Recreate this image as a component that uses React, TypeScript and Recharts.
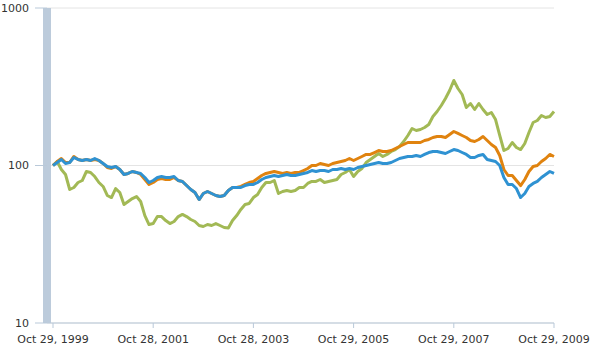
import React from "react";
import { LineChart, Line, XAxis, YAxis, CartesianGrid } from "recharts";

const tickIndex = [0, 24, 48, 72, 96, 120];
const tickLabels = ["Oct 29, 1999", "Oct 28, 2001", "Oct 28, 2003", "Oct 29, 2005", "Oct 29, 2007", "Oct 29, 2009"];
const yTicks = [10, 100, 1000];

const greenSeries = [100,106,94.3,87.7,70.4,72.5,78.0,80.3,91.6,90.3,
85.1,78.0,73.6,64.5,62.6,71.4,67.4,56.5,59.1,61.7,
63.5,59.1,48.1,42.2,42.8,47.4,47.4,44.7,42.8,44.1,
47.4,48.9,47.4,45.4,44.1,41.6,41.0,42.2,41.6,42.8,
41.6,40.4,40.1,44.7,48.1,52.6,56.5,57.4,62.6,65.4,
72.5,78.0,78.0,80.3,66.4,68.4,69.4,68.4,69.4,72.5,
72.5,76.9,79.2,79.2,81.5,78.0,79.2,80.3,81.5,87.7,
90.3,94.3,85.1,91.6,95.7,104.5,109.2,114.1,119.2,114.1,
117.5,122.7,126.3,132.0,142.0,155.1,171.8,166.8,169.3,174.3,
182.1,204.7,220.2,240.4,266.3,299.4,346.5,308.3,282.4,233.5,
247.5,226.8,247.5,226.8,210.7,217.0,195.9,155.1,124.5,128.2,
140.0,130.1,126.3,137.9,162.0,187.5,193.1,207.7,201.7,204.7,
220.2];

const blueSeries = [100,104.5,109.2,103.0,104.5,112.4,109.2,107.6,109.2,107.6,
110.8,107.6,103.0,98.5,97.1,98.5,94.3,87.7,89.0,91.6,
90.3,89.0,83.9,78.0,80.3,83.9,85.1,83.9,83.9,85.1,
80.3,79.2,74.6,70.4,67.4,60.8,66.4,68.4,66.4,64.5,
63.5,64.5,69.4,72.5,72.5,72.5,74.6,75.8,75.8,78.0,
81.5,83.9,85.1,86.4,85.1,86.4,87.7,86.4,86.4,87.7,
89.0,90.3,92.9,91.6,92.9,92.9,91.6,94.3,94.3,95.7,
94.3,95.7,94.3,97.1,98.5,100,101.5,103.0,104.5,103.0,
103.0,104.5,107.6,110.8,112.4,114.1,114.1,115.8,114.1,117.5,
120.9,122.7,122.7,120.9,119.2,122.7,126.3,124.5,120.9,117.5,
112.4,112.4,115.8,117.5,109.2,107.6,106.0,100,83.9,75.8,
75.8,71.4,62.6,66.4,73.6,76.9,79.2,83.9,87.7,91.6,
89.0];

const orangeSeries = [100,106.0,110.8,104.5,104.5,114.1,109.2,107.6,109.2,107.6,
109.2,107.6,103.0,97.1,95.7,98.5,94.3,87.7,89.0,91.6,
90.3,87.7,81.5,75.8,78.0,81.5,82.7,81.5,81.5,83.9,
80.3,79.2,74.6,70.4,67.4,60.8,66.4,68.4,66.4,64.5,
63.5,64.5,69.4,72.5,72.5,73.6,75.8,78.0,79.2,82.7,
86.4,89.0,90.3,91.6,90.3,89.0,90.3,89.0,90.3,90.3,
92.9,95.7,100,100,103.0,101.5,100,103.0,104.5,106.0,
107.6,110.8,107.6,110.8,114.1,117.5,117.5,120.9,124.5,122.7,
122.7,124.5,128.2,132.0,135.9,140.0,140.0,140.0,140.0,144.1,
146.3,150.6,152.8,152.8,150.6,157.4,164.4,159.7,155.1,150.6,
144.1,142.0,146.3,152.8,144.1,135.9,130.1,115.8,94.3,86.4,
86.4,80.3,74.6,81.5,91.6,98.5,100,106.0,110.8,117.5,
114.1];

const data = blueSeries.map((b, i) => ({
  i,
  blue: b,
  orange: orangeSeries[i],
  green: greenSeries[i],
}));

const tickStyle = { fontFamily: "DejaVu Sans", fontSize: 11, fill: "#333" };

export default function App() {
  return (
    <div style={{ position: "absolute", left: 0, top: 0, background: "#fff" }}>
      <LineChart width={598} height={357} data={data} margin={{ top: 8, right: 44, bottom: 0, left: 0 }}>
        <CartesianGrid vertical={false} stroke="#e4e4e4" />
        <XAxis
          dataKey="i"
          type="number"
          domain={[0, 120]}
          ticks={tickIndex}
          tickFormatter={(v: number) => tickLabels[tickIndex.indexOf(v)] ?? ""}
          padding={{ left: 6, right: 0 }}
          height={34}
          stroke="#b9c9d9"
          tickSize={5}
          tickMargin={7}
          tick={tickStyle}
          interval={0}
        />
        <YAxis
          scale="log"
          domain={[10, 1000]}
          ticks={yTicks}
          width={47}
          axisLine={{ stroke: "#bccbdb", strokeWidth: 8 }}
          tickLine={{ stroke: "#b9c9d9" }}
          tickSize={12}
          tickMargin={6}
          tick={tickStyle}
          allowDataOverflow
        />
        <Line dataKey="green" stroke="#a2b955" strokeWidth={3} dot={false} isAnimationActive={false} strokeLinejoin="round" />
        <Line dataKey="orange" stroke="#e0830f" strokeWidth={3} dot={false} isAnimationActive={false} strokeLinejoin="round" />
        <Line dataKey="blue" stroke="#2f92d2" strokeWidth={3} dot={false} isAnimationActive={false} strokeLinejoin="round" />
      </LineChart>
    </div>
  );
}
